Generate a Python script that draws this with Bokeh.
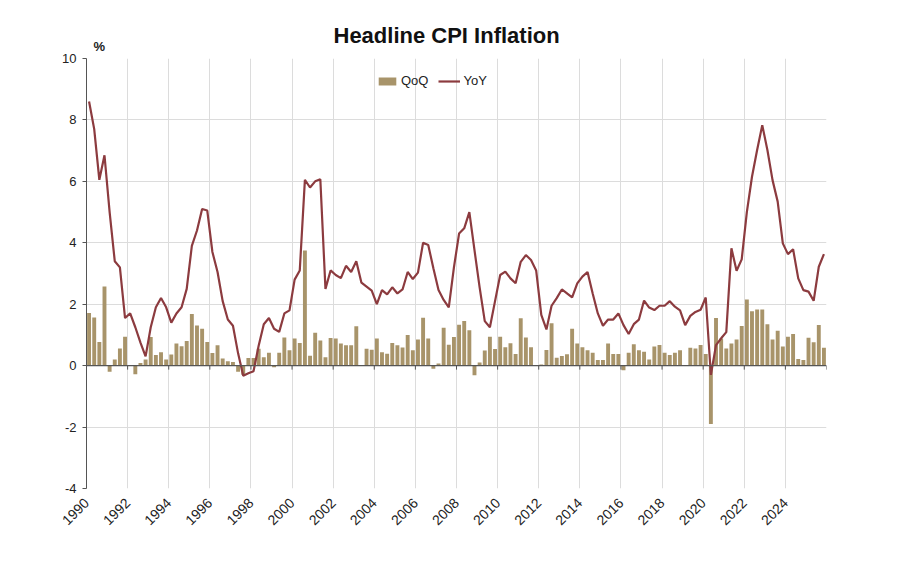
from bokeh.plotting import figure
from bokeh.models import (ColumnDataSource, FixedTicker, Legend, LegendItem, Range1d,
                          Span, Title)
from bokeh.embed import file_html
from bokeh.resources import INLINE
import math

# Quarterly data, 1990Q1 .. 2025Q4
start_year = 1990
qoq = [
    1.71, 1.57, 0.77, 2.58,   # 1990
    -0.20, 0.20, 0.56, 0.94,  # 1991
    0.00, -0.28, 0.09, 0.20,  # 1992
    0.93, 0.35, 0.44, 0.20,   # 1993
    0.36, 0.72, 0.63, 0.80,   # 1994
    1.68, 1.31, 1.20, 0.77,   # 1995
    0.41, 0.66, 0.23, 0.14,   # 1996
    0.12, -0.20, -0.30, 0.25, # 1997
    0.25, 0.55, 0.27, 0.42,   # 1998
    -0.05, 0.42, 0.92, 0.50,  # 1999
    0.88, 0.74, 3.75, 0.32,   # 2000
    1.07, 0.82, 0.27, 0.90,   # 2001
    0.88, 0.72, 0.66, 0.66,   # 2002
    1.28, 0.00, 0.55, 0.52,   # 2003
    0.88, 0.44, 0.39, 0.74,   # 2004
    0.66, 0.59, 1.00, 0.50,   # 2005
    0.85, 1.56, 0.88, -0.10,  # 2006
    0.07, 1.23, 0.68, 0.93,   # 2007
    1.33, 1.45, 1.15, -0.31,  # 2008
    0.10, 0.49, 0.94, 0.54,   # 2009
    0.94, 0.60, 0.73, 0.38,   # 2010
    1.54, 0.92, 0.60, 0.00,   # 2011
    0.04, 0.51, 1.38, 0.26,   # 2012
    0.31, 0.37, 1.20, 0.72,   # 2013
    0.60, 0.50, 0.42, 0.18,   # 2014
    0.18, 0.72, 0.38, 0.38,   # 2015
    -0.15, 0.42, 0.70, 0.50,  # 2016
    0.45, 0.20, 0.62, 0.67,   # 2017
    0.42, 0.35, 0.42, 0.50,   # 2018
    0.00, 0.58, 0.56, 0.67,   # 2019
    0.38, -1.90, 1.55, 0.88,  # 2020
    0.56, 0.72, 0.85, 1.29,   # 2021
    2.15, 1.77, 1.83, 1.83,   # 2022
    1.35, 0.85, 1.14, 0.62,   # 2023
    0.94, 1.03, 0.22, 0.18,   # 2024
    0.91, 0.76, 1.32, 0.58,   # 2025
]
yoy = [
    8.60, 7.70, 6.05, 6.85,   # 1990
    5.00, 3.40, 3.20, 1.55,   # 1991
    1.70, 1.25, 0.75, 0.30,   # 1992
    1.25, 1.90, 2.20, 1.90,   # 1993
    1.40, 1.70, 1.90, 2.50,   # 1994
    3.90, 4.40, 5.10, 5.05,   # 1995
    3.70, 3.05, 2.10, 1.50,   # 1996
    1.30, 0.40, -0.33, -0.25, # 1997
    -0.18, 0.65, 1.35, 1.55,  # 1998
    1.20, 1.10, 1.70, 1.80,   # 1999
    2.80, 3.10, 6.05, 5.80,   # 2000
    6.00, 6.07, 2.50, 3.10,   # 2001
    2.95, 2.85, 3.25, 3.05,   # 2002
    3.40, 2.70, 2.57, 2.44,   # 2003
    2.00, 2.46, 2.32, 2.55,   # 2004
    2.35, 2.48, 3.05, 2.82,   # 2005
    3.03, 4.00, 3.93, 3.17,   # 2006
    2.46, 2.14, 1.90, 3.20,   # 2007
    4.30, 4.47, 5.00, 3.76,   # 2008
    2.55, 1.45, 1.25, 2.10,   # 2009
    2.95, 3.06, 2.84, 2.68,   # 2010
    3.38, 3.60, 3.44, 3.10,   # 2011
    1.65, 1.18, 1.95, 2.20,   # 2012
    2.48, 2.35, 2.22, 2.68,   # 2013
    2.90, 3.05, 2.35, 1.70,   # 2014
    1.30, 1.50, 1.50, 1.70,   # 2015
    1.32, 1.03, 1.35, 1.50,   # 2016
    2.12, 1.89, 1.81, 1.95,   # 2017
    1.95, 2.10, 1.92, 1.80,   # 2018
    1.32, 1.62, 1.75, 1.82,   # 2019
    2.22, -0.30, 0.67, 0.89,  # 2020
    1.09, 3.82, 3.09, 3.46,   # 2021
    5.00, 6.15, 7.02, 7.83,   # 2022
    7.02, 6.04, 5.34, 3.98,   # 2023
    3.63, 3.79, 2.84, 2.46,   # 2024
    2.41, 2.11, 3.22, 3.63,   # 2025
]
x_ticks = list(range(1990, 2027, 2))
y_ticks = [-4, -2, 0, 2, 4, 6, 8, 10]

xs = [start_year + i / 4 + 0.125 for i in range(len(qoq))]
src = ColumnDataSource(dict(x=xs, qoq=qoq, yoy=yoy))

FONT = "Liberation Sans"
BAR = "#a8946a"
LINE = "#8c3b3f"
AXIS = "#555555"

p = figure(width=884, height=546, output_backend="svg", toolbar_location=None,
           x_range=Range1d(1990, 2026), y_range=Range1d(-4, 10),
           min_border_left=86, min_border_right=58, min_border_top=58,
           min_border_bottom=58, title=None)
p.outline_line_color = None
p.background_fill_color = "white"

# "%" unit label just above the plot area (nearest the frame)
unit = Title(text="%", align="left", offset=7, standoff=9,
             text_font=FONT, text_font_size="13px", text_font_style="bold",
             text_color="#222222")
p.add_layout(unit, "above")
# main title above it
main = Title(text="Headline CPI Inflation", align="left", offset=247, standoff=-31,
             text_font=FONT, text_font_size="22px", text_font_style="bold",
             text_color="#111111")
p.add_layout(main, "above")

# grids
p.xgrid.ticker = FixedTicker(ticks=x_ticks)
p.ygrid.ticker = FixedTicker(ticks=y_ticks)
for g in (p.xgrid, p.ygrid):
    g.grid_line_color = "#dcdcdc"
    g.grid_line_width = 1

bars = p.vbar(x="x", top="qoq", bottom=0, width=0.19, source=src,
              fill_color=BAR, line_color=None)
line = p.line(x="x", y="yoy", source=src, line_color=LINE, line_width=2.2)

# zero line with small downward ticks
p.add_layout(Span(location=0, dimension="width", line_color=AXIS, line_width=1.2))
p.segment(x0=x_ticks, x1=x_ticks, y0=[0] * len(x_ticks), y1=[-0.13] * len(x_ticks),
          line_color=AXIS, line_width=1)

# bottom axis with labels only
xa = p.xaxis[0]
xa.ticker = FixedTicker(ticks=x_ticks)
xa.major_label_overrides = {2026: ""}
xa.axis_line_color = None
xa.major_tick_line_color = None
xa.minor_tick_line_color = None
xa.major_label_orientation = math.pi / 4
xa.major_label_text_font = FONT
xa.major_label_text_font_size = "14px"
xa.major_label_text_color = "#222222"
xa.major_label_standoff = 6

ya = p.yaxis[0]
ya.ticker = FixedTicker(ticks=y_ticks)
ya.major_label_overrides = {-4: "-4", -2: "-2"}
ya.axis_line_color = AXIS
ya.major_tick_line_color = AXIS
ya.major_tick_in = 0
ya.major_tick_out = 4
ya.minor_tick_line_color = None
ya.major_label_text_font = FONT
ya.major_label_text_font_size = "13px"
ya.major_label_text_color = "#222222"
ya.major_label_standoff = 6

legend = Legend(items=[LegendItem(label="QoQ", renderers=[bars]),
                       LegendItem(label="YoY", renderers=[line])],
                orientation="horizontal", location=(290, 400))
legend.background_fill_alpha = 0
legend.border_line_alpha = 0
legend.label_text_font = FONT
legend.label_text_font_size = "13px"
legend.label_text_color = "#222222"
legend.glyph_width = 22
legend.glyph_height = 10
legend.label_standoff = 3
legend.spacing = 10
legend.padding = 0
legend.margin = 0
p.add_layout(legend, "center")

open("out.html", "w").write(file_html(p, INLINE))
